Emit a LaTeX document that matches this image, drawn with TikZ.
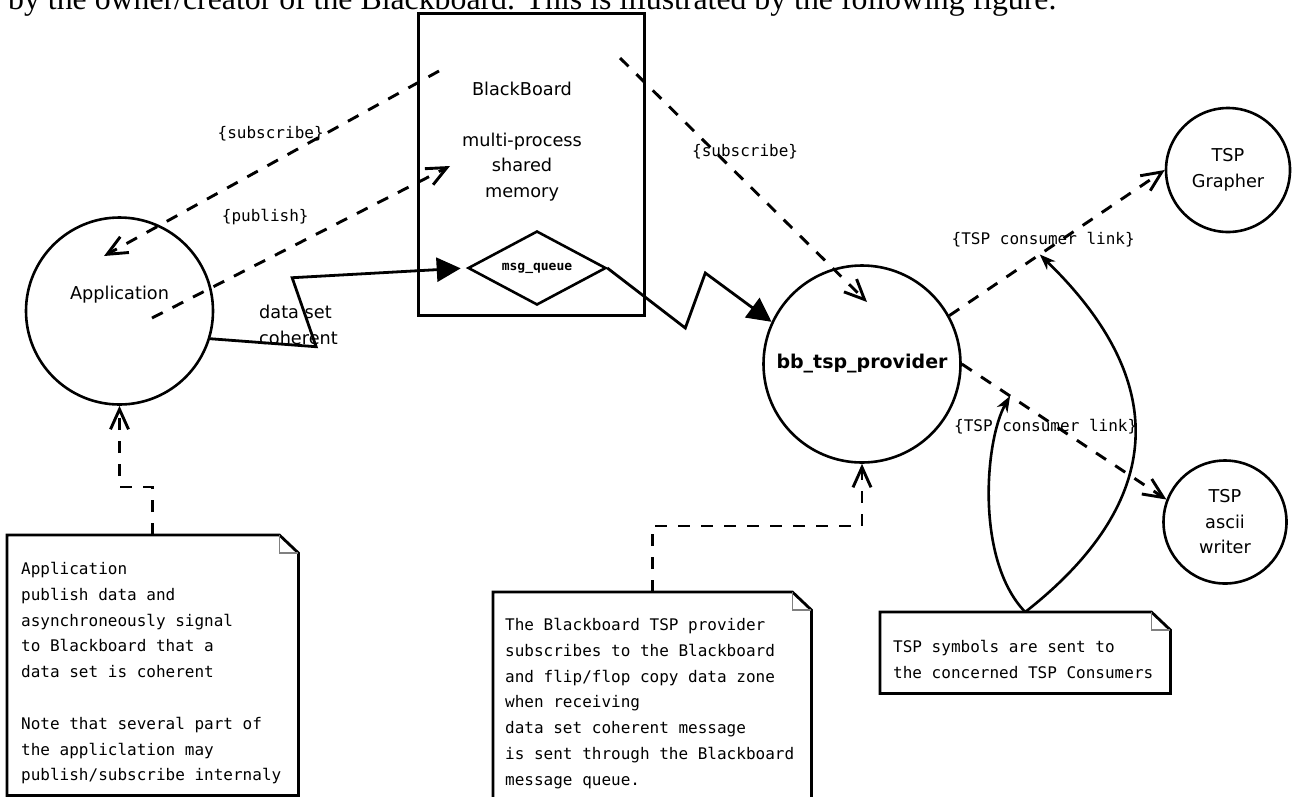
\documentclass[tikz,border=0pt]{standalone}
\usepackage{fontspec}
\setmainfont{DejaVu Sans}
\newfontfamily\monofont{DejaVu Sans Mono}
\newfontfamily\pagefont{Liberation Serif}
\usetikzlibrary{shapes.geometric,arrows.meta,positioning}

% note outline with a folded corner
\newcommand\notefold[1]{%
  \draw[line width=2.8pt] (#1.south west) -- (#1.north west) -- ([xshift=-19pt]#1.north east) -- ([yshift=-18pt]#1.north east) -- (#1.south east) -- cycle;
  \draw[gray, line width=1.2pt] ([xshift=-19pt]#1.north east) |- ([yshift=-18pt]#1.north east);}

\tikzset{
  ent/.style={draw, circle, line width=2.6pt, inner sep=0pt, align=center, font=\fontsize{17.7}{25.5}\selectfont},
  lbl/.style={inner sep=0pt, align=center, font=\fontsize{17.7}{25.5}\selectfont},
  elabel/.style={inner sep=1pt, font=\monofont\fontsize{16}{18}\selectfont},
  notebox/.style={anchor=north west, inner sep=0pt},
  notetext/.style={anchor=north west, inner sep=0pt, align=left, font=\monofont\fontsize{16}{25.8}\selectfont},
  dep/.style={line width=2.9pt, dash pattern=on 12pt off 11pt, -{Straight Barb[length=20pt,width=18pt]}},
  flow/.style={line width=2.8pt, -{Triangle[length=24pt,width=24pt]}},
  curv/.style={line width=2.6pt, -{Stealth[length=16pt,width=12pt]}}
}

\begin{document}
\begin{tikzpicture}[x=1pt,y=-1pt]
\useasboundingbox (0,0) rectangle (1292,796);
\clip (0,0) rectangle (1292,796);

\node[anchor=base west, inner sep=0pt, font=\pagefont\fontsize{31.8}{36}\selectfont] (intro) at (8,9) {by the owner/creator of the Blackboard. This is illustrated by the following figure.};

% blackboard
\node[draw, line width=3pt, minimum width=226pt, minimum height=302pt] (board) at (531,164) {};
\node[lbl] (boardname) at (522,89) {BlackBoard};
\node[lbl] (shm) at (522,167) {multi-process\\shared\\memory};
\node[draw, diamond, aspect=1.86, minimum width=138pt, minimum height=74pt, inner sep=0pt, line width=2.6pt, font=\monofont\bfseries\fontsize{13}{13}\selectfont] (msgq) at (537,268) {msg\_queue};

% processes
\node[ent, minimum size=187pt] (app) at (119.5,311) {};
\node[lbl] (appname) at ([yshift=16pt]app.center) {Application};
\node[ent, minimum size=197pt, font=\bfseries\fontsize{19}{23}\selectfont] (bb) at (862,364) {bb\_tsp\_provider};
\node[ent, minimum size=124pt] (grapher) at (1228,170) {TSP\\Grapher};
\node[ent, minimum size=123pt] (ascii) at (1225,522) {TSP\\ascii\\writer};

\coordinate (bbsubL) at (439,71);
\coordinate (appin) at (104,256);
\coordinate (apppub) at (152,318);
\coordinate (bbpub) at (450,166);
\coordinate (bbsubR) at (620,58);
\coordinate (provin) at (867,302);

\draw[dep] (bbsubL) -- node[elabel, pos=0.337, anchor=east] (sublbl) {\{subscribe\}} (appin);
\draw[dep] (apppub) -- node[elabel, pos=0.38, yshift=43pt] (publbl) {\{publish\}} (bbpub);
\draw[dep] (bbsubR) -- node[elabel, pos=0.385, xshift=30pt] (sub2lbl) {\{subscribe\}} (provin);

\draw[flow, shorten >=6pt] (app.-17) -- ++(106,8) -- ++(-24,-69) -- (msgq.west);
\node[lbl, align=left, anchor=west] (coh) at (259,325) {data set\\coherent};
\draw[flow] (msgq.east) -- ++(78,60) -- ++(20,-55) -- (bb.155);

\draw[dep] (bb.29) -- coordinate[pos=0.42] (lk1) node[elabel, pos=0.436, yshift=12pt] (lk1lbl) {\{TSP consumer link\}} (grapher.west);
\draw[dep] (bb.east) -- coordinate[pos=0.236] (lk2) node[elabel, pos=0.41, yshift=-7pt] (lk2lbl) {\{TSP consumer link\}} (ascii.159);

% notes
\node[notebox, minimum width=291pt, minimum height=260pt] (note1) at (7,535) {};
\notefold{note1}
\node[notetext] (note1txt) at ([shift={(14,27)}]note1.north west) {Application\\publish data and\\asynchroneously signal\\to Blackboard that a\\data set is coherent\\[25.8pt]Note that several part of\\the appliclation may\\publish/subscribe internaly};

\node[notebox, minimum width=318pt, minimum height=240pt] (note2) at (493,592) {};
\notefold{note2}
\node[notetext] (note2txt) at ([shift={(12,26)}]note2.north west) {The Blackboard TSP provider\\subscribes to the Blackboard\\and flip/flop copy data zone\\when receiving\\data set coherent message\\is sent through the Blackboard\\message queue.};

\node[notebox, minimum width=290pt, minimum height=81pt] (note3) at (880,612) {};
\notefold{note3}
\node[notetext] (note3txt) at ([shift={(13,28)}]note3.north west) {TSP symbols are sent to\\the concerned TSP Consumers};

\draw[dep] (note1.north) -- ([yshift=48pt]note1.north) -| (app.south);
\draw[dep] (note2.north) -- ([yshift=66pt]note2.north) -| (bb.south);
\draw[curv] (note3.north) .. controls (1130,530) and (1200,410) .. (lk1);
\draw[curv] (note3.north) .. controls (975,560) and (985,440) .. (lk2);
\end{tikzpicture}
\end{document}
